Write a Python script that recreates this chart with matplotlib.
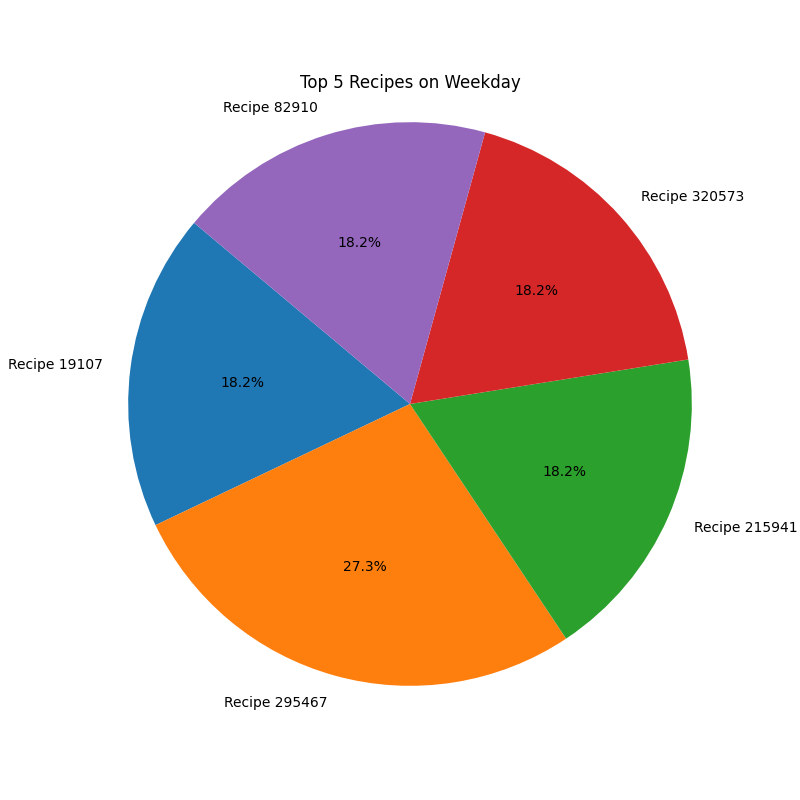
import matplotlib
matplotlib.use("Agg")
import matplotlib.pyplot as plt

recipes = ["Recipe 19107", "Recipe 295467", "Recipe 215941", "Recipe 320573", "Recipe 82910"]
counts = [2, 3, 2, 2, 2]

plt.figure(figsize=(8, 8))
plt.pie(counts, labels=recipes, autopct="%1.1f%%", startangle=140)
plt.title("Top 5 Recipes on Weekday")
plt.axis("equal")
plt.savefig("out.png", dpi=100)
